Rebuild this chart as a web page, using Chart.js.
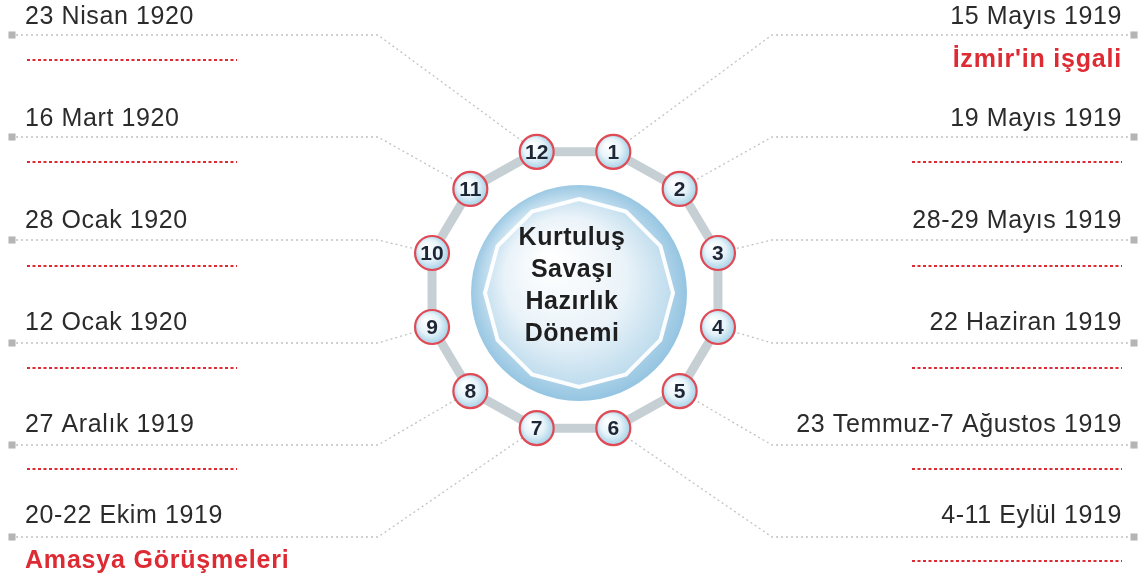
<!DOCTYPE html>
<html>
<head>
<meta charset="utf-8">
<script src="https://cdn.jsdelivr.net/npm/chart.js@4"></script>
<style>
  html, body { margin: 0; padding: 0; background: #fff; }
  #wrap { width: 1141px; height: 578px; }
</style>
</head>
<body>
<div id="wrap"><canvas id="chart" width="1141" height="578"></canvas></div>
<script>
// events around the ring, left column top to bottom, right column top to bottom
const leftDates = ['23 Nisan 1920', '16 Mart 1920', '28 Ocak 1920', '12 Ocak 1920', '27 Aralık 1919', '20-22 Ekim 1919'];
const leftNodes = [12, 11, 10, 9, 8, 7];
const leftNotes = ['', '', '', '', '', 'Amasya Görüşmeleri'];

const rightDates = ['15 Mayıs 1919', '19 Mayıs 1919', '28-29 Mayıs 1919', '22 Haziran 1919', '23 Temmuz-7 Ağustos 1919', '4-11 Eylül 1919'];
const rightNodes = [1, 2, 3, 4, 5, 6];
const rightNotes = ["İzmir'in işgali", '', '', '', '', ''];

const nodeNumbers = [1, 2, 3, 4, 5, 6, 7, 8, 9, 10, 11, 12];
const centerTitle = ['Kurtuluş', 'Savaşı', 'Hazırlık', 'Dönemi'];

// layout
const W = 1141, H = 578;
const CX = 575, CY = 290, RX = 148, RY = 143;
const rowText = [17, 119, 221, 323, 425, 516];
const rowLink = [35, 137, 240, 343, 445, 537];
const rowNote = [60, 162, 266, 368, 469, 561];
const RED = '#dd2a33';
const INK = '#2b2b2b';

function nodePos(n) {
  const a = (n * 30 - 15) * Math.PI / 180;
  return { x: CX + RX * Math.sin(a), y: CY - RY * Math.cos(a) };
}

const linkSets = [];
leftNodes.forEach((n, i) => {
  linkSets.push([{ x: 16, y: rowLink[i] }, { x: 378, y: rowLink[i] }, nodePos(n)]);
});
rightNodes.forEach((n, i) => {
  linkSets.push([{ x: 1128, y: rowLink[i] }, { x: 772, y: rowLink[i] }, nodePos(n)]);
});

const blankSets = [];
leftNotes.forEach((t, i) => {
  if (!t) blankSets.push([{ x: 27, y: rowNote[i] }, { x: 237, y: rowNote[i] }]);
});
rightNotes.forEach((t, i) => {
  if (!t) blankSets.push([{ x: 912, y: rowNote[i] }, { x: 1122, y: rowNote[i] }]);
});

const ringPoints = nodeNumbers.concat([nodeNumbers[0]]).map(nodePos);
const nodePoints = nodeNumbers.map(nodePos);
const squarePoints = rowLink.map(y => ({ x: 12, y })).concat(rowLink.map(y => ({ x: 1134, y })));

const datasets = [];
linkSets.forEach(d => datasets.push({
  data: d, showLine: true, pointRadius: 0, borderColor: '#c2c2c2',
  borderWidth: 1.3, borderDash: [2, 3], order: 6
}));
blankSets.forEach(d => datasets.push({
  data: d, showLine: true, pointRadius: 0, borderColor: RED,
  borderWidth: 2.2, borderDash: [3, 2.5], order: 5
}));
datasets.push({
  data: squarePoints, pointStyle: 'rect', pointRadius: 5,
  backgroundColor: '#b5b5b5', borderWidth: 0, order: 4
});
datasets.push({
  data: ringPoints, showLine: true, pointRadius: 0, borderColor: '#c6cfd3',
  borderWidth: 9, tension: 0, order: 3
});
datasets.push({
  data: nodePoints, pointRadius: 17, borderColor: '#e04a55', borderWidth: 2.2,
  backgroundColor: (c) => {
    const chart = c.chart;
    if (!c.parsed || !chart.scales || !chart.scales.x) return '#dbeef7';
    const px = chart.scales.x.getPixelForValue(c.parsed.x);
    const py = chart.scales.y.getPixelForValue(c.parsed.y);
    if (!isFinite(px) || !isFinite(py)) return '#dbeef7';
    const g = chart.ctx.createRadialGradient(px - 6, py - 7, 1, px, py, 18);
    g.addColorStop(0, '#ffffff');
    g.addColorStop(0.55, '#e6f3f9');
    g.addColorStop(1, '#9fcfe6');
    return g;
  },
  order: 1
});

const centerDisc = {
  id: 'centerDisc',
  beforeDatasetsDraw(chart) {
    const { ctx, scales: { x, y } } = chart;
    const cx = x.getPixelForValue(CX + 4), cy = y.getPixelForValue(CY + 3);
    ctx.save();
    // outer rim
    let g = ctx.createRadialGradient(cx - 35, cy - 40, 5, cx, cy, 112);
    g.addColorStop(0, '#ffffff');
    g.addColorStop(0.6, '#d8eaf5');
    g.addColorStop(1, '#90c2e0');
    ctx.beginPath();
    ctx.arc(cx, cy, 108, 0, Math.PI * 2);
    ctx.fillStyle = g;
    ctx.fill();
    // inner dodecagon
    ctx.beginPath();
    for (let k = 0; k < 12; k++) {
      const a = (k * 30) * Math.PI / 180;
      const px = cx + 94 * Math.sin(a), py = cy - 94 * Math.cos(a);
      k ? ctx.lineTo(px, py) : ctx.moveTo(px, py);
    }
    ctx.closePath();
    g = ctx.createRadialGradient(cx - 30, cy - 35, 5, cx, cy, 105);
    g.addColorStop(0, '#ffffff');
    g.addColorStop(0.55, '#eaf3f9');
    g.addColorStop(1, '#b3d6ea');
    ctx.fillStyle = g;
    ctx.fill();
    ctx.lineWidth = 4;
    ctx.strokeStyle = 'rgba(255,255,255,0.95)';
    ctx.stroke();
    ctx.restore();
  }
};

const labels = {
  id: 'labels',
  afterDatasetsDraw(chart) {
    const { ctx, scales: { x, y } } = chart;
    ctx.save();
    ctx.textBaseline = 'middle';
    ctx.letterSpacing = '0.6px';

    ctx.font = '25px "Liberation Sans", Arial, sans-serif';
    ctx.fillStyle = INK;
    ctx.textAlign = 'left';
    leftDates.forEach((t, i) => ctx.fillText(t, x.getPixelForValue(25), y.getPixelForValue(rowText[i])));
    ctx.textAlign = 'right';
    rightDates.forEach((t, i) => ctx.fillText(t, x.getPixelForValue(1122), y.getPixelForValue(rowText[i])));

    ctx.letterSpacing = '0.8px';
    ctx.font = 'bold 25px "Liberation Sans", Arial, sans-serif';
    ctx.fillStyle = RED;
    ctx.textAlign = 'left';
    leftNotes.forEach((t, i) => { if (t) ctx.fillText(t, x.getPixelForValue(25), y.getPixelForValue(rowNote[i])); });
    ctx.textAlign = 'right';
    rightNotes.forEach((t, i) => { if (t) ctx.fillText(t, x.getPixelForValue(1122), y.getPixelForValue(rowNote[i])); });

    // node numbers
    const meta = chart.getDatasetMeta(chart.data.datasets.length - 1);
    ctx.letterSpacing = '0px';
    ctx.font = 'bold 21px "Liberation Sans", Arial, sans-serif';
    ctx.fillStyle = '#1e2636';
    ctx.textAlign = 'center';
    meta.data.forEach((el, i) => ctx.fillText(String(nodeNumbers[i]), el.x, el.y + 1));

    // title in the middle
    ctx.letterSpacing = '0.5px';
    ctx.font = 'bold 25px "Liberation Sans", Arial, sans-serif';
    ctx.fillStyle = '#1f1f1f';
    centerTitle.forEach((t, i) => ctx.fillText(t, x.getPixelForValue(572), y.getPixelForValue(238 + i * 32)));
    ctx.restore();
  }
};

new Chart(document.getElementById('chart').getContext('2d'), {
  type: 'scatter',
  data: { datasets },
  options: {
    responsive: false,
    animation: false,
    events: [],
    layout: { padding: 0, autoPadding: false },
    clip: false,
    scales: {
      x: { type: 'linear', min: 0, max: W, display: false },
      y: { type: 'linear', min: 0, max: H, reverse: true, display: false }
    },
    plugins: { legend: { display: false }, tooltip: { enabled: false } }
  },
  plugins: [centerDisc, labels]
});
</script>
</body>
</html>
